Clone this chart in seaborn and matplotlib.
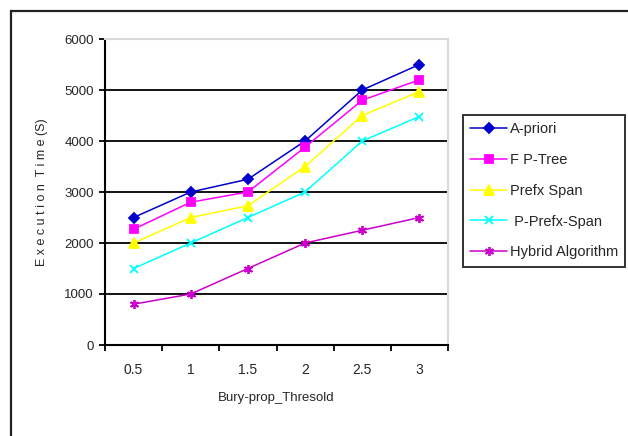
import matplotlib
matplotlib.use("Agg")
import matplotlib.pyplot as plt
from matplotlib.patches import Rectangle
import seaborn as sns
import pandas as pd

thresholds = ["0.5", "1", "1.5", "2", "2.5", "3"]
series_names = ["A-priori", "F P-Tree", "Prefx Span", " P-Prefx-Span", "Hybrid Algorithm"]
apriori = [2500, 3000, 3250, 4000, 5000, 5500]
fp_tree = [2270, 2800, 3000, 3880, 4800, 5200]
prefix_span = [2000, 2500, 2730, 3500, 4500, 4970]
p_prefix_span = [1500, 2000, 2500, 3000, 4000, 4480]
hybrid = [800, 1000, 1500, 2000, 2250, 2500]
y_ticks = [0, 1000, 2000, 3000, 4000, 5000, 6000]

values = [apriori, fp_tree, prefix_span, p_prefix_span, hybrid]
rows = []
for name, vals in zip(series_names, values):
    for t, v in zip(thresholds, vals):
        rows.append({"Threshold": t, "Time": v, "Series": name})
df = pd.DataFrame(rows)

sns.set_style("white")
plt.rcParams["font.family"] = ["Liberation Sans", "DejaVu Sans"]

colors = ["#0000CC", "#FF00FF", "#FFFF00", "#00FFFF", "#CC00CC"]
markers = ["D", "s", "^", "x", (6, 2, 0)]
msizes = [5, 6, 6.5, 5.5, 6.5]

fig = plt.figure(figsize=(6.28, 4.36), dpi=100)
ax = fig.add_axes([105/628, 1-345/436, (448-105)/628, (345-39)/436])

for y in y_ticks[1:-1]:
    ax.axhline(y, color="black", lw=1.3, zorder=0)

for name, c, m, ms in zip(series_names, colors, markers, msizes):
    sub = df[df["Series"] == name]
    sns.lineplot(data=sub, x="Threshold", y="Time", color=c, marker=m,
                 markersize=ms, markeredgecolor=c, markerfacecolor=c,
                 markeredgewidth=1.3, linewidth=1.1, sort=False, ax=ax, label=name)

ax.set_xlim(-0.5, 5.5)
ax.set_ylim(0, 6000)
ax.set_yticks(y_ticks)
ax.set_yticklabels([str(v) for v in y_ticks], fontsize=9.5)
ax.set_xticks(range(len(thresholds)))
ax.set_xticklabels(thresholds, fontsize=10)
ax.set_xticks([i - 0.5 for i in range(len(thresholds) + 1)], minor=True)
ax.tick_params(axis="x", which="major", length=0, pad=13)
ax.tick_params(axis="x", which="minor", length=4, width=1.3, color="black", direction="out", bottom=True)
ax.tick_params(axis="y", length=4, width=1.3, color="black", direction="out", left=True, pad=4)

for side in ["left", "bottom"]:
    ax.spines[side].set_color("black")
    ax.spines[side].set_linewidth(1.5)
for side in ["top", "right"]:
    ax.spines[side].set_color("#d9d9d9")
    ax.spines[side].set_linewidth(1.5)

ax.set_xlabel("Bury-prop_Thresold", fontsize=9.5, labelpad=11)
ax.set_ylabel("E x e c u t i o n  T i m e (S)", fontsize=9, labelpad=12)

handles, labels = ax.get_legend_handles_labels()
if ax.get_legend() is not None:
    ax.get_legend().remove()
leg = fig.legend(handles, labels, loc="upper left", bbox_to_anchor=(463/628, 1-115/436),
                 frameon=True, fancybox=False, fontsize=10.5, handlelength=2.5,
                 handletextpad=0.2, labelspacing=1.15, borderpad=0.5, borderaxespad=0)
leg.get_frame().set_edgecolor("black")
leg.get_frame().set_linewidth(1.4)

fig.patches.append(Rectangle((11/628, -0.1), 1.2, 1 - 11/436 + 0.1, transform=fig.transFigure,
                             fill=False, edgecolor="#222222", linewidth=1.6))

fig.savefig("out.png", dpi=100)
